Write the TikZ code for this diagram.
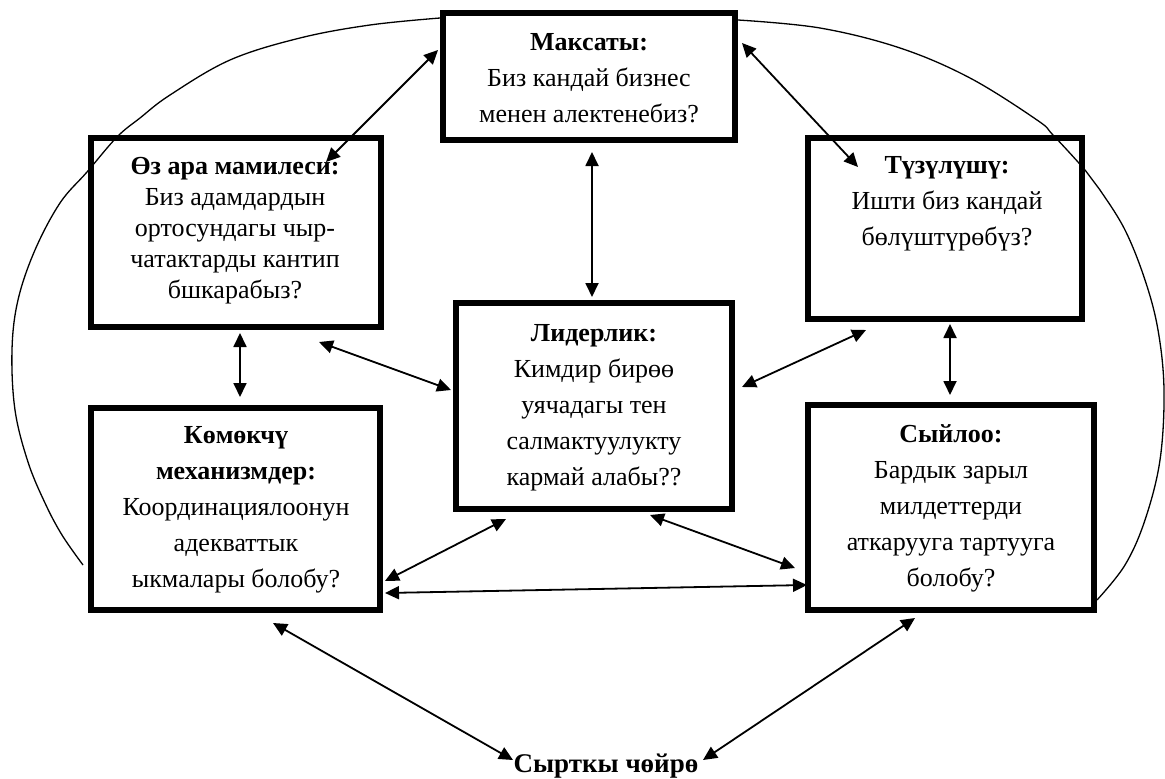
\documentclass[tikz,border=0pt]{standalone}
\usepackage{fontspec}
\setmainfont{Liberation Serif}
\usetikzlibrary{arrows.meta}
\begin{document}
\begin{tikzpicture}[x=1pt,y=-1pt,
  box/.style={draw, line width=6pt, rectangle, inner sep=0pt},
  txt/.style={align=center, inner sep=0pt, anchor=north, font=\fontsize{26}{36}\selectfont},
  txtb/.style={align=center, inner sep=0pt, anchor=north, font=\fontsize{26}{31}\selectfont},
  link/.style={line width=1.8pt, {Triangle[length=14pt,width=13pt]}-{Triangle[length=14pt,width=13pt]}},
  rim/.style={line width=1.3pt}]
\useasboundingbox (0,0) rectangle (1165,779);
\fill[white] (0,0) rectangle (1165,779);

% outer environment curve
\draw[rim] plot[smooth, tension=0.6] coordinates {(440,18) (370,25) (300,38) (230,60) (170,95) (140,118) (117,137) (87,172) (60,203) (35,250) (18,300) (12,350) (15,410) (28,462) (45,503) (62,535) (83,565)};
\draw[rim] plot[smooth, tension=0.6] coordinates {(738,20) (820,28) (900,48) (970,78) (1037,120) (1053,135) (1085,170) (1100,190) (1125,230) (1145,280) (1158,330) (1164,390) (1160,460) (1145,520) (1125,565) (1097,600)};

% boxes
\node[box, minimum width=292pt, minimum height=127pt] (T)  at (589,76.5) {};
\node[box, minimum width=290pt, minimum height=189pt] (LU) at (236,232.5) {};
\node[box, minimum width=274pt, minimum height=181pt] (RU) at (945,228.5) {};
\node[box, minimum width=276pt, minimum height=206pt] (C)  at (594,406) {};
\node[box, minimum width=289pt, minimum height=202pt] (LL) at (235.5,509) {};
\node[box, minimum width=286pt, minimum height=205pt] (RL) at (951,507.5) {};

% texts
\node[txt]  (Tt)  at (589,30)  {\rule{0pt}{20pt}\textbf{Максаты:}\\Биз кандай бизнес\\менен алектенебиз?};
\node[txtb] (LUt) at (235,154) {\rule{0pt}{20pt}\textbf{Өз ара мамилеси:}\\Биз адамдардын\\ортосундагы чыр-\\чатактарды кантип\\бшкарабыз?};
\node[txt]  (RUt) at (947,153) {\rule{0pt}{20pt}\textbf{Түзүлүшү:}\\Ишти биз кандай\\бөлүштүрөбүз?};
\node[txt]  (Ct)  at (594,321) {\rule{0pt}{20pt}\textbf{Лидерлик:}\\Кимдир бирөө\\уячадагы тен\\салмактуулукту\\кармай алабы??};
\node[txt]  (LLt) at (236,423) {\rule{0pt}{20pt}\textbf{Көмөкчү}\\\textbf{механизмдер:}\\Координациялоонун\\адекваттык\\ыкмалары болобу?};
\node[txt]  (RLt) at (951,422) {\rule{0pt}{20pt}\textbf{Сыйлоо:}\\Бардык зарыл\\милдеттерди\\аткарууга тартууга\\болобу?};
\node[inner sep=0pt, anchor=base, font=\fontsize{27}{31}\selectfont\bfseries] (env) at (606,772) {Сырткы чөйрө};

% connector end points
\coordinate (T-a) at (438,50);   \coordinate (LU-a) at (326,162);
\coordinate (T-b) at (742,43);   \coordinate (RU-a) at (858,167);
\coordinate (T-c) at (592,152);  \coordinate (C-a)  at (592,297);
\coordinate (LU-b) at (240,333); \coordinate (LL-a) at (240,397);
\coordinate (RU-b) at (950,324); \coordinate (RL-a) at (950,395);
\coordinate (LU-c) at (319,342); \coordinate (C-b)  at (451,390);
\coordinate (RU-c) at (866,330); \coordinate (C-c)  at (742,387);
\coordinate (C-d) at (506,519);  \coordinate (LL-b) at (385,581);
\coordinate (C-e) at (650,515);  \coordinate (RL-b) at (795,568);
\coordinate (LL-c) at (385,593); \coordinate (RL-c) at (807,585);
\coordinate (LL-d) at (273,623); \coordinate (env-a) at (513,760);
\coordinate (RL-d) at (915,618); \coordinate (env-b) at (703,760);

\draw[link] (T-a) -- (LU-a);
\draw[link] (T-b) -- (RU-a);
\draw[link] (T-c) -- (C-a);
\draw[link] (LU-b) -- (LL-a);
\draw[link] (RU-b) -- (RL-a);
\draw[link] (LU-c) -- (C-b);
\draw[link] (RU-c) -- (C-c);
\draw[link] (C-d) -- (LL-b);
\draw[link] (C-e) -- (RL-b);
\draw[link] (LL-c) -- (RL-c);
\draw[link] (LL-d) -- (env-a);
\draw[link] (RL-d) -- (env-b);
\end{tikzpicture}
\end{document}
